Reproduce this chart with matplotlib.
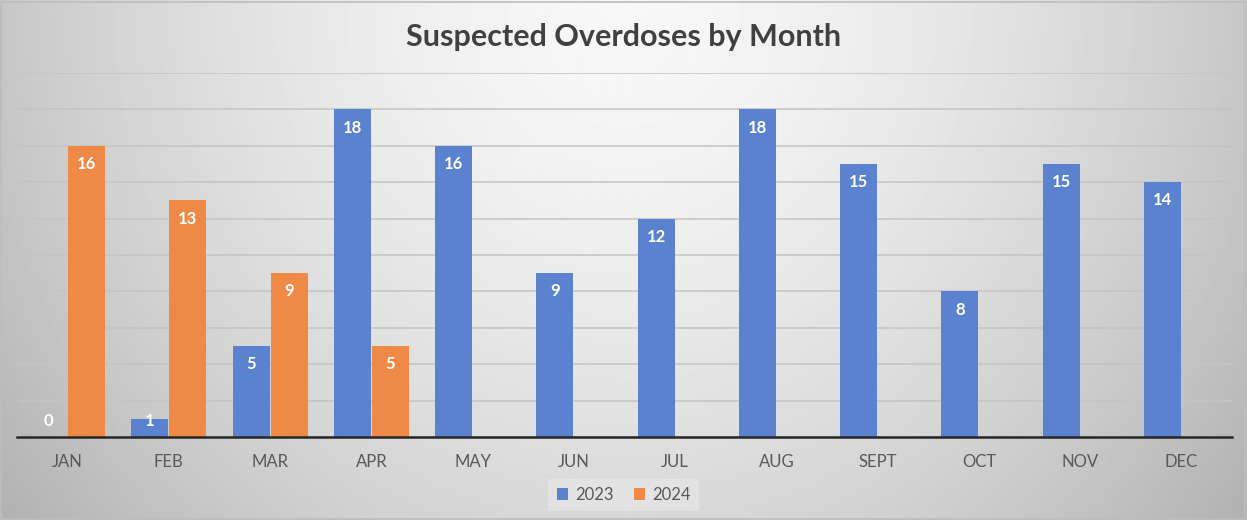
import numpy as np
import matplotlib
matplotlib.use("Agg")
from matplotlib import pyplot as plt

months = ['JAN', 'FEB', 'MAR', 'APR', 'MAY', 'JUN', 'JUL', 'AUG', 'SEPT', 'OCT', 'NOV', 'DEC']
y2023 = [0, 1, 5, 18, 16, 9, 12, 18, 15, 8, 15, 14]
y2024 = [16, 13, 9, 5, None, None, None, None, None, None, None, None]

blue = '#5A82CE'
orange = '#EE8A45'

plt.rcParams['font.family'] = ['Lato', 'DejaVu Sans']

fig = plt.figure(figsize=(12.47, 5.2), dpi=100)

# radial-ish gray gradient behind everything
bg = fig.add_axes([0, 0, 1, 1], zorder=-10)
gx, gy = np.meshgrid(np.linspace(-1, 1, 600), np.linspace(0, 1, 260))
r = np.sqrt((gx / 1.0) ** 2 + (gy / 1.3) ** 2)
shade = 0.97 - 0.19 * np.clip(r, 0, 1.25) ** 1.6
bg.imshow(shade, cmap='gray', vmin=0, vmax=1, aspect='auto', extent=[0, 1, 1, 0])
bg.set_xlim(0, 1)
bg.set_ylim(1, 0)
bg.axis('off')
fig.patches.append(plt.Rectangle((0.001, 0.002), 0.997, 0.994, transform=fig.transFigure,
                                 fill=False, edgecolor='#BDBDBD', linewidth=1.2))

ax = fig.add_axes([0.0136, 0.1596, 0.9744, 0.7], facecolor='none')
x = np.arange(len(months))
w = 0.365
v24 = [v if v is not None else 0 for v in y2024]
b1 = ax.bar(x - w / 2 - 0.005, y2023, w, color=blue, label='2023', zorder=3)
b2 = ax.bar(x + w / 2 + 0.005, v24, w, color=orange, label='2024', zorder=3)

for rect, v in zip(b1, y2023):
    ax.text(rect.get_x() + rect.get_width() / 2, max(v - 1.0, 0.9), str(v),
            ha='center', va='center', color='white', fontsize=12, fontweight='bold', zorder=4)
for rect, v in zip(b2, y2024):
    if v is None:
        continue
    ax.text(rect.get_x() + rect.get_width() / 2, v - 1.0, str(v),
            ha='center', va='center', color='white', fontsize=12, fontweight='bold', zorder=4)

ax.set_xlim(-0.5, len(months) - 0.5)
ax.set_ylim(0, 20)
ax.set_yticks(np.arange(0, 21, 2))
ax.yaxis.grid(True, color='#C4C4C4', linewidth=1.1, zorder=0)
ax.set_axisbelow(True)
ax.tick_params(axis='y', left=False, labelleft=False)
ax.tick_params(axis='x', length=0, pad=12, labelsize=12, labelcolor='#595959')
ax.set_xticks(x)
ax.set_xticklabels(months)
for s in ['top', 'right', 'left']:
    ax.spines[s].set_visible(False)
ax.spines['bottom'].set_color('#262626')
ax.spines['bottom'].set_linewidth(1.8)
ax.spines['bottom'].set_zorder(5)

fig.text(0.5, 0.928, 'Suspected Overdoses by Month', ha='center', va='center',
         fontsize=22, fontweight='bold', color='#404040')

leg = fig.legend(loc='center', bbox_to_anchor=(0.5, 0.048), ncol=2, frameon=True,
                 fontsize=12, handlelength=0.7, handleheight=0.7, handletextpad=0.4,
                 columnspacing=1.2, borderpad=0.5, fancybox=False)
leg.get_frame().set_facecolor('#E6E6E6')
leg.get_frame().set_edgecolor('none')
leg.get_frame().set_alpha(0.7)
for t in leg.get_texts():
    t.set_color('#595959')

fig.savefig('out.png', dpi=100)
